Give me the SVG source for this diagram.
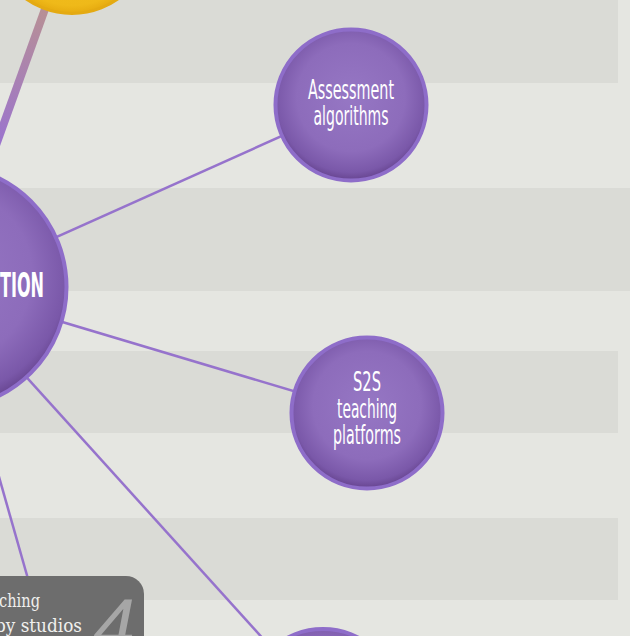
<svg xmlns="http://www.w3.org/2000/svg" width="630" height="636" viewBox="0 0 630 636">
  <defs>
    <radialGradient id="purpleFill" cx="0.5" cy="0.45" r="0.55">
      <stop offset="0" stop-color="#9677c4"/>
      <stop offset="0.65" stop-color="#8d6cbb"/>
      <stop offset="0.9" stop-color="#7a58a9"/>
      <stop offset="1" stop-color="#66448f"/>
    </radialGradient>
    <radialGradient id="yellowFill" cx="0.5" cy="0.5" r="0.5">
      <stop offset="0" stop-color="#f4c424"/>
      <stop offset="0.9" stop-color="#efb919"/>
      <stop offset="1" stop-color="#e6ab10"/>
    </radialGradient>
    <linearGradient id="thickLine" gradientUnits="userSpaceOnUse" x1="45" y1="12" x2="0" y2="150">
      <stop offset="0" stop-color="#b78f96"/>
      <stop offset="1" stop-color="#9a73d0"/>
    </linearGradient>
    <clipPath id="boxClip">
      <rect x="-30" y="576" width="174" height="90" rx="18"/>
    </clipPath>
  </defs>
  <style>
    .band { fill: #dadbd6; }
    .conn { stroke: #9673cc; stroke-width: 2.5; fill: none; }
    .pnode { fill: url(#purpleFill); stroke: #8e6dc9; stroke-width: 4; }
    .lbl { fill: #ffffff; font-family: "Liberation Sans Narrow", "DejaVu Sans Condensed", "Liberation Sans", sans-serif; font-size: 26px; text-anchor: middle; }
    .boxtxt { fill: #f0f0ee; font-family: "DejaVu Serif", "Liberation Serif", serif; font-size: 18px; }
  </style>

  <g id="background">
    <rect x="0" y="0" width="630" height="636" fill="#e5e6e1"/>
    <rect class="band" x="0" y="0" width="618" height="83"/>
    <rect class="band" x="0" y="188" width="630" height="103"/>
    <rect class="band" x="0" y="351" width="618" height="82"/>
    <rect class="band" x="0" y="518" width="618" height="82"/>
  </g>

  <g id="connectors">
    <line x1="72" y1="-66" x2="-55" y2="287" stroke="url(#thickLine)" stroke-width="8"/>
    <line class="conn" x1="-55" y1="287" x2="351" y2="105"/>
    <line class="conn" x1="-55" y1="287" x2="367" y2="413"/>
    <line class="conn" x1="-55" y1="287" x2="323" y2="705"/>
    <line class="conn" x1="-55" y1="287" x2="34" y2="600"/>
  </g>

  <g id="node-yellow">
    <circle cx="72" cy="-66" r="79.5" fill="url(#yellowFill)" stroke="#e4aa12" stroke-width="3"/>
  </g>

  <g id="node-main">
    <circle class="pnode" cx="-55" cy="287" r="121.5" stroke-width="5"/>
    <text x="0" y="297" textLength="44" lengthAdjust="spacingAndGlyphs" fill="#ffffff" font-family="'Liberation Sans Narrow', 'DejaVu Sans Condensed', 'Liberation Sans', sans-serif" font-size="33" font-weight="bold">TION</text>
  </g>

  <g id="node-assessment">
    <circle class="pnode" cx="351" cy="105" r="75.5"/>
    <text class="lbl" x="351" y="99" textLength="86" lengthAdjust="spacingAndGlyphs">Assessment</text>
    <text class="lbl" x="351" y="125" textLength="75" lengthAdjust="spacingAndGlyphs">algorithms</text>
  </g>

  <g id="node-s2s">
    <circle class="pnode" cx="367" cy="413" r="75.5"/>
    <text class="lbl" x="367" y="391" textLength="28" lengthAdjust="spacingAndGlyphs">S2S</text>
    <text class="lbl" x="367" y="417.5" textLength="60" lengthAdjust="spacingAndGlyphs">teaching</text>
    <text class="lbl" x="367" y="444" textLength="68" lengthAdjust="spacingAndGlyphs">platforms</text>
  </g>

  <g id="node-bottom">
    <circle class="pnode" cx="323" cy="705" r="76"/>
  </g>

  <g id="node-box">
    <rect x="-30" y="576" width="174" height="90" rx="18" fill="#6d6d6d"/>
    <g clip-path="url(#boxClip)">
      <text x="114" y="652" text-anchor="middle" fill="#a6a6a6" font-family="'Liberation Sans Narrow', 'Liberation Sans', sans-serif" font-size="76" font-style="italic">4</text>
    </g>
    <text class="boxtxt" x="-27" y="607" textLength="67" lengthAdjust="spacingAndGlyphs">Teaching</text>
    <text class="boxtxt" x="-5" y="632" textLength="87" lengthAdjust="spacingAndGlyphs">by studios</text>
  </g>
</svg>
